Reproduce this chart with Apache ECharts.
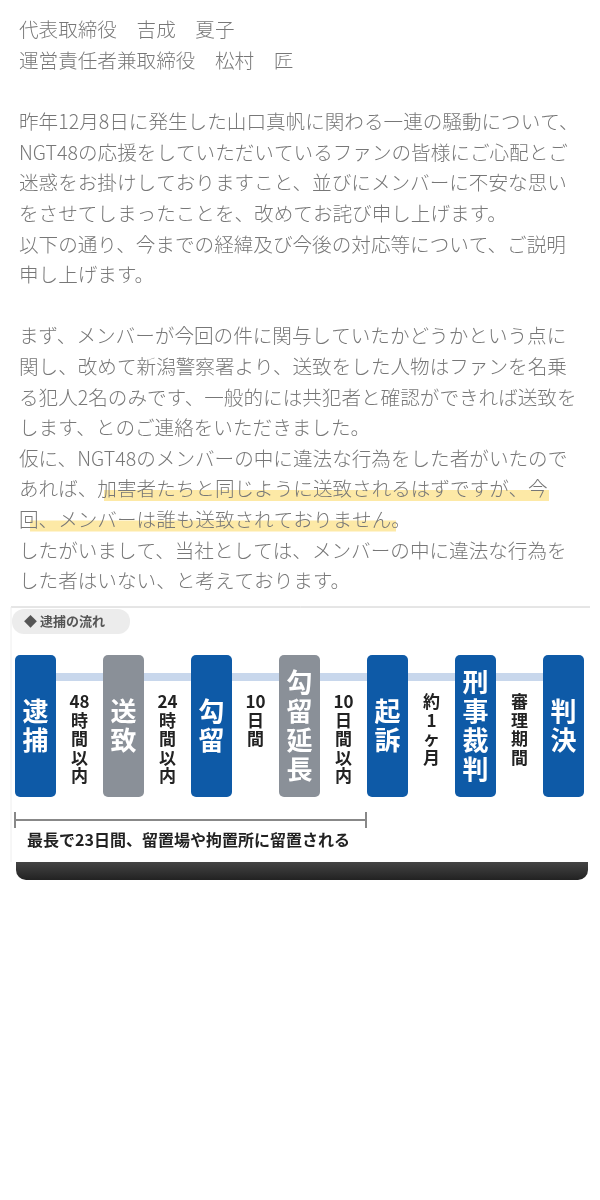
<!DOCTYPE html>
<html><head><meta charset="utf-8">
<script src="https://cdn.jsdelivr.net/npm/echarts@6/dist/echarts.min.js"></script>
<style>body{margin:0;background:#fff}#c{width:600px;height:1200px}</style></head>
<body><div id="c"></div>
<script>
const textLines = [
"代表取締役　吉成　夏子",
"運営責任者兼取締役　松村　匠",
"",
"昨年12月8日に発生した山口真帆に関わる一連の騒動について、",
"NGT48の応援をしていただいているファンの皆様にご心配とご",
"迷惑をお掛けしておりますこと、並びにメンバーに不安な思い",
"をさせてしまったことを、改めてお詫び申し上げます。",
"以下の通り、今までの経緯及び今後の対応等について、ご説明",
"申し上げます。",
"",
"まず、メンバーが今回の件に関与していたかどうかという点に",
"関し、改めて新潟警察署より、送致をした人物はファンを名乗",
"る犯人2名のみです、一般的には共犯者と確認ができれば送致を",
"します、とのご連絡をいただきました。",
"仮に、NGT48のメンバーの中に違法な行為をした者がいたので",
"あれば、加害者たちと同じように送致されるはずですが、今",
"回、メンバーは誰も送致されておりません。",
"したがいまして、当社としては、メンバーの中に違法な行為を",
"した者はいない、と考えております。"
];
const highlightLines = [15, 16];
const steps = ["逮捕","送致","勾留","勾留延長","起訴","刑事裁判","判決"];
const stepKinds = ["blue","grey","blue","grey","blue","blue","blue"];
const intervals = ["48時間以内","24時間以内","10日間","10日間以内","約1ヶ月","審理期間"];
const flowTitle = "◆ 逮捕の流れ";
const bracketNote = "最長で23日間、留置場や拘置所に留置される";

const chart = echarts.init(document.getElementById('c'));
const g = [];
const font = '"Noto Sans CJK JP", sans-serif';
textLines.forEach((t, i) => {
  const y = 30 + i * 30.6;
  if (highlightLines.includes(i)) {
    const x0 = i === 15 ? 104 : 30, x1 = i === 15 ? 549 : 396;
    g.push({type:'rect', shape:{x:x0, y:y+1, width:x1-x0, height:11}, style:{fill:'#fde9a6'}});
  }
  g.push({type:'text', x:19, y:y, style:{text:t, font:'300 19.6px '+font, fill:'#777', verticalAlign:'middle'}});
});
g.push({type:'rect', shape:{x:16, y:862, width:572, height:18, r:[0,0,10,10]}, style:{fill:new echarts.graphic.LinearGradient(0,0,0,1,[{offset:0,color:'#444'},{offset:1,color:'#222'}])}});
g.push({type:'rect', shape:{x:11, y:607, width:579, height:255}, style:{fill:'#fff'}});
g.push({type:'line', shape:{x1:11, y1:607, x2:590, y2:607}, style:{stroke:'#ccc', lineWidth:1}});
g.push({type:'line', shape:{x1:11, y1:607, x2:11, y2:862}, style:{stroke:'#eee', lineWidth:1}});
g.push({type:'rect', shape:{x:12, y:609, width:118, height:25, r:12}, style:{fill:'#ececec'}});
g.push({type:'text', x:24, y:621, style:{text:flowTitle, font:'bold 13px '+font, fill:'#555', verticalAlign:'middle'}});
const bx0 = 15, step = 88, bw = 41, by = 655, bh = 142;
steps.forEach((s, i) => {
  const x = bx0 + i * step;
  if (i < steps.length - 1) {
    g.push({type:'rect', shape:{x:x+bw, y:673, width:step-bw, height:8}, style:{fill:'#c8d7ec'}});
  }
  g.push({type:'rect', shape:{x:x, y:by, width:bw, height:bh, r:5}, style:{fill: stepKinds[i]==='blue' ? '#0e5aa7' : '#8a9098'}});
  const chars = s.split('');
  const lh = 29, cy = by + bh/2 - (chars.length-1)*lh/2;
  chars.forEach((c, k) => g.push({type:'text', x:x+bw/2, y:cy+k*lh, style:{text:c, font:'bold 26px '+font, fill:'#fff', align:'center', verticalAlign:'middle'}}));
});
intervals.forEach((s, i) => {
  const cx = bx0 + i*step + bw + (step-bw)/2;
  const chars = /^\d\d/.test(s) ? [s.slice(0,2)].concat(s.slice(2).split('')) : s.split('');
  chars.forEach((c, k) => g.push({type:'text', x:cx, y:702+k*18.5, style:{text:c, font:'bold 17px '+font, fill:'#222', align:'center', verticalAlign:'middle'}}));
});
g.push({type:'line', shape:{x1:15, y1:820, x2:366, y2:820}, style:{stroke:'#888', lineWidth:2}});
g.push({type:'line', shape:{x1:15, y1:812, x2:15, y2:828}, style:{stroke:'#888', lineWidth:2}});
g.push({type:'line', shape:{x1:366, y1:812, x2:366, y2:828}, style:{stroke:'#888', lineWidth:2}});
g.push({type:'text', x:27, y:840, style:{text:bracketNote, font:'bold 16px '+font, fill:'#222', verticalAlign:'middle'}});
chart.setOption({backgroundColor:'#fff', graphic:{elements:g}});
</script></body></html>
